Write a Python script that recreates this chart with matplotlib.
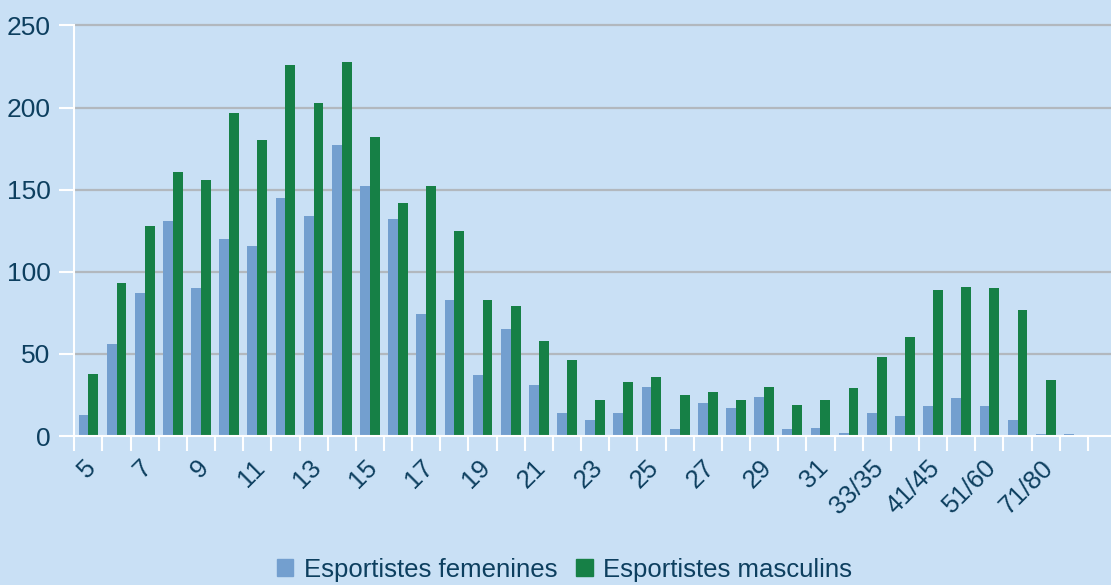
import matplotlib
matplotlib.use("Agg")
import matplotlib.pyplot as plt
from matplotlib.patches import Patch
from matplotlib.transforms import ScaledTranslation
import numpy as np

categories = [str(v) for v in range(5, 33)] + ["33/35", "36/40", "41/45", "46/50", "51/60", "61/70", "71/80", ">80"]
femenines = [13, 56, 87, 131, 90, 120, 116, 145, 134, 177, 152, 132, 74, 83,
             37, 65, 31, 14, 10, 14, 30, 4, 20, 17, 24, 4, 5, 2,
             14, 12, 18, 23, 18, 10, 1, 1]
masculins = [38, 93, 128, 161, 156, 197, 180, 226, 203, 228, 182, 142, 152, 125,
             83, 79, 58, 46, 22, 33, 36, 25, 27, 22, 30, 19, 22, 29,
             48, 60, 89, 91, 90, 77, 34, 0.5]
shown_labels = ["5", "7", "9", "11", "13", "15", "17", "19", "21", "23", "25", "27", "29", "31",
                "33/35", "41/45", "51/60", "71/80"]
y_ticks = [0, 50, 100, 150, 200, 250]

BG = "#c9e0f5"
BLUE = "#739fcf"
GREEN = "#168046"
TXT = "#0d3f5f"
GRID = "#b2b8be"

plt.rcParams['font.family'] = ['Liberation Sans', 'DejaVu Sans']

fig = plt.figure(figsize=(11.11, 5.85), dpi=100, facecolor=BG)
ax = fig.add_axes([74.3 / 1111, 1 - 436 / 585, 1 - 74.3 / 1111, (436 - 25.5) / 585])
ax.set_facecolor(BG)

x = np.arange(len(categories))
w = 0.35
ax.bar(x - w / 2, femenines, width=w, color=BLUE, label="Esportistes femenines", zorder=3)
ax.bar(x + w / 2, masculins, width=w, color=GREEN, label="Esportistes masculins", zorder=3)

ax.set_ylim(0, 250)
ax.set_xlim(-0.5, 36.32)
ax.set_yticks(y_ticks)
for yv in y_ticks[1:]:
    ax.axhline(yv, color=GRID, lw=1.6, zorder=1, clip_on=False)

for s in ["top", "right"]:
    ax.spines[s].set_visible(False)
for s in ["left", "bottom"]:
    ax.spines[s].set_color("white")
    ax.spines[s].set_linewidth(1.5)
    ax.spines[s].set_zorder(4)

# boundary ticks (major) without labels
ax.set_xticks(np.arange(-0.5, len(categories), 1.0))
ax.set_xticklabels([])
ax.tick_params(axis="x", which="major", length=11, width=1.5, color="white")
# labels at category centres (minor)
pos = [categories.index(l) for l in shown_labels]
ax.set_xticks(pos, minor=True)
ax.set_xticklabels(shown_labels, minor=True, rotation=45, ha="right", va="top",
                   rotation_mode="anchor", fontsize=18.5, color=TXT)
ax.tick_params(axis="x", which="minor", length=0, pad=14)
offset = ScaledTranslation(-5 / 100, 0, fig.dpi_scale_trans)
for lab in ax.get_xticklabels(minor=True):
    lab.set_transform(lab.get_transform() + offset)

ax.tick_params(axis="y", length=11, width=1.5, color="white", labelsize=19,
               labelcolor=TXT, pad=6)

handles = [Patch(color=BLUE, label="Esportistes femenines"),
           Patch(color=GREEN, label="Esportistes masculins")]
leg = fig.legend(handles=handles, loc="center", bbox_to_anchor=(0.508, 0.026), ncol=2,
                 frameon=False, fontsize=18.5, handlelength=0.65, handleheight=0.65,
                 handletextpad=0.4, columnspacing=0.75, borderaxespad=0)
for t in leg.get_texts():
    t.set_color(TXT)

fig.savefig("out.png", dpi=100, facecolor=BG)
